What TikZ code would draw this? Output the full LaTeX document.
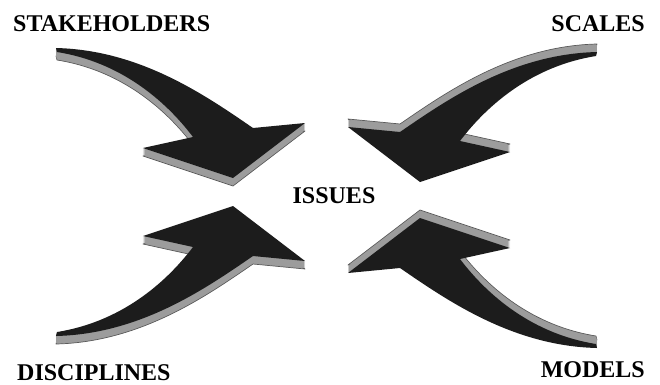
\documentclass[tikz,border=0pt]{standalone}
\usepackage{fontspec}
\setmainfont{Liberation Serif}
\usepackage{xcolor}
\definecolor{FlowTop}{HTML}{1C1C1C}
\definecolor{FlowSide}{HTML}{9C9C9C}
\definecolor{FlowEdge}{HTML}{5A5A5A}
\tikzset{
  flowtop/.style={fill=FlowTop},
  flowside/.style={fill=FlowSide},
  flowedge/.style={fill=FlowSide, draw=FlowEdge, line width=0.7pt, line join=round},
  flowlabel/.style={font=\bfseries\fontsize{24}{24}\selectfont, inner sep=0pt}
}
% top face of one curved arrow (the upper left one)
\newcommand{\flowpath}{(-274,144) .. controls (-190,142) and (-125,97) .. (-77,64)
  -- (-25,69) -- (-97,14) -- (-187,44) -- (-137,55)
  .. controls (-165,92) and (-210,130) .. (-273,140) -- cycle}
% #1 placement, #2 direction of the thick side
\newcommand{\flowarrow}[2]{%
  \fill[flowedge, shift={(0,#2*8)}, #1] \flowpath;
  \foreach \d in {7,...,1}
    \fill[flowside, shift={(0,#2*\d)}, #1] \flowpath;
  \fill[flowtop, #1] \flowpath;}

\begin{document}
\begin{tikzpicture}[x=1pt, y=1pt]
  \useasboundingbox (-330,-192) rectangle (330,192);
  % arrows
  \flowarrow{}{-1}
  \flowarrow{shift={(-7,-4)}, xscale=-1}{1}
  \flowarrow{yscale=-1}{-1}
  \flowarrow{shift={(-7,-12)}, xscale=-1, yscale=-1}{1}
  % labels
  \node[flowlabel, anchor=base west] (stakeholders) at (-317,161) {STAKEHOLDERS};
  \node[flowlabel, anchor=base east] (scales) at (315,161) {SCALES};
  \node[flowlabel, anchor=base] (issues) at (4,-11) {ISSUES};
  \node[flowlabel, anchor=base west] (disciplines) at (-313,-188) {DISCIPLINES};
  \node[flowlabel, anchor=base east] (models) at (315,-185) {MODELS};
\end{tikzpicture}
\end{document}
